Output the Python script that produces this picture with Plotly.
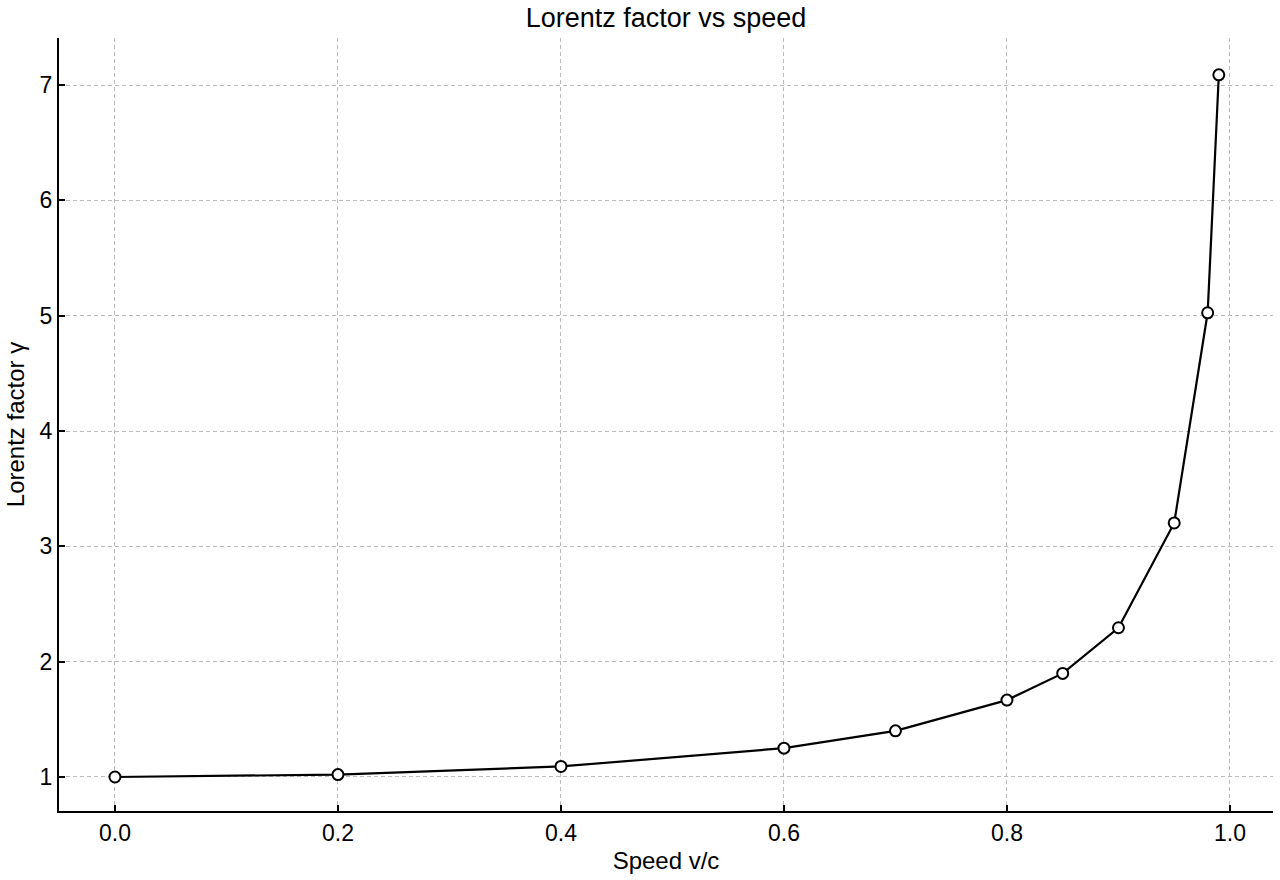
import plotly.graph_objects as go

# speed as a fraction of c and the matching Lorentz factor
speed = [0.0, 0.2, 0.4, 0.6, 0.7, 0.8, 0.85, 0.9, 0.95, 0.98, 0.99]
gamma = [1.0, 1.0206, 1.0911, 1.25, 1.4003, 1.6667, 1.8983, 2.2942, 3.2026, 5.0252, 7.0888]

x_ticks = [0.0, 0.2, 0.4, 0.6, 0.8, 1.0]
x_labels = ['0.0', '0.2', '0.4', '0.6', '0.8', '1.0']
y_ticks = [1, 2, 3, 4, 5, 6, 7]

fig = go.Figure(go.Scatter(
    x=speed, y=gamma, mode='lines+markers',
    line=dict(color='black', width=2.2),
    marker=dict(size=11, color='white', line=dict(color='black', width=2)),
))

axis_style = dict(
    showline=True, linecolor='black', linewidth=2, mirror=False,
    ticks='inside', ticklen=6, tickwidth=2, tickcolor='black',
    showgrid=True, gridcolor='#bbbbbb', griddash='4px,3px', gridwidth=1,
    zeroline=False, tickfont=dict(size=23, color='black'),
)

fig.update_xaxes(
    **axis_style, range=[-0.0502, 1.0386],
    tickvals=x_ticks, ticktext=x_labels,
    title=dict(text='Speed v/c', font=dict(size=24, color='black'), standoff=8),
)
fig.update_yaxes(
    **axis_style, range=[0.705, 7.408], tickvals=y_ticks,
    title=dict(text='Lorentz factor γ', font=dict(size=24, color='black'), standoff=8),
)

fig.update_layout(
    width=1280, height=880,
    font=dict(family='Liberation Sans, Arial, sans-serif', color='black'),
    title=dict(text='Lorentz factor vs speed', x=0.5, xref='paper', xanchor='center',
               y=0.98, yanchor='middle', font=dict(size=27, color='black')),
    plot_bgcolor='white', paper_bgcolor='white',
    margin=dict(l=59, r=7, t=38, b=69),
    showlegend=False,
)

# drop the default page margin so the figure fills the window exactly
fig.write_html('out.html', config={'displayModeBar': False},
               post_script="document.body.style.margin='0px';")
